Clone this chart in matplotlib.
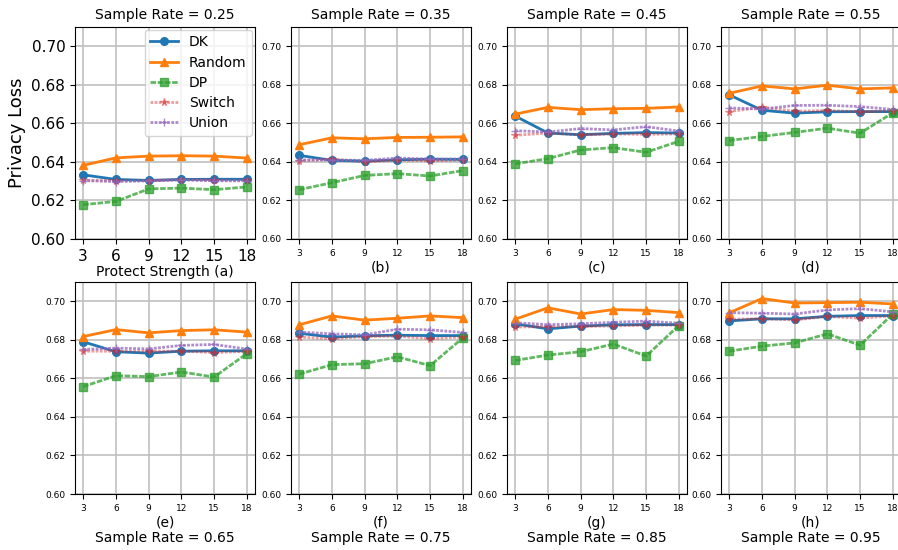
import matplotlib
matplotlib.use('Agg')
import matplotlib.pyplot as plt

strength = [3, 6, 9, 12, 15, 18]
rates = ['0.25', '0.35', '0.45', '0.55', '0.65', '0.75', '0.85', '0.95']
letters = ['a', 'b', 'c', 'd', 'e', 'f', 'g', 'h']

dk = [
    [0.6333, 0.6309, 0.6304, 0.6309, 0.6310, 0.6310],
    [0.6434, 0.6408, 0.6404, 0.6411, 0.6414, 0.6413],
    [0.6638, 0.6550, 0.6541, 0.6548, 0.6552, 0.6550],
    [0.6748, 0.6668, 0.6653, 0.6660, 0.6661, 0.6661],
    [0.6790, 0.6738, 0.6731, 0.6741, 0.6743, 0.6743],
    [0.6834, 0.6814, 0.6821, 0.6824, 0.6822, 0.6822],
    [0.6883, 0.6857, 0.6871, 0.6878, 0.6879, 0.6879],
    [0.6898, 0.6909, 0.6909, 0.6922, 0.6926, 0.6926],
]
random_ = [
    [0.6382, 0.6421, 0.6430, 0.6432, 0.6430, 0.6420],
    [0.6489, 0.6525, 0.6520, 0.6527, 0.6528, 0.6530],
    [0.6648, 0.6683, 0.6671, 0.6676, 0.6678, 0.6685],
    [0.6756, 0.6794, 0.6779, 0.6798, 0.6779, 0.6784],
    [0.6817, 0.6853, 0.6836, 0.6848, 0.6852, 0.6840],
    [0.6878, 0.6924, 0.6902, 0.6912, 0.6924, 0.6915],
    [0.6907, 0.6966, 0.6934, 0.6957, 0.6953, 0.6941],
    [0.6940, 0.7014, 0.6991, 0.6993, 0.6995, 0.6986],
]
dp = [
    [0.6178, 0.6195, 0.6260, 0.6264, 0.6256, 0.6270],
    [0.6256, 0.6292, 0.6330, 0.6339, 0.6327, 0.6355],
    [0.6390, 0.6417, 0.6462, 0.6474, 0.6450, 0.6507],
    [0.6511, 0.6532, 0.6553, 0.6575, 0.6549, 0.6655],
    [0.6557, 0.6614, 0.6609, 0.6633, 0.6607, 0.6728],
    [0.6622, 0.6671, 0.6676, 0.6712, 0.6666, 0.6810],
    [0.6693, 0.6721, 0.6738, 0.6778, 0.6716, 0.6874],
    [0.6741, 0.6767, 0.6784, 0.6831, 0.6772, 0.6934],
]
switch = [
    [0.6305, 0.6303, 0.6303, 0.6308, 0.6305, 0.6305],
    [0.6405, 0.6415, 0.6400, 0.6410, 0.6405, 0.6410],
    [0.6538, 0.6550, 0.6540, 0.6545, 0.6543, 0.6545],
    [0.6661, 0.6684, 0.6663, 0.6667, 0.6660, 0.6665],
    [0.6741, 0.6741, 0.6741, 0.6741, 0.6734, 0.6740],
    [0.6814, 0.6805, 0.6817, 0.6819, 0.6805, 0.6815],
    [0.6866, 0.6869, 0.6869, 0.6872, 0.6876, 0.6876],
    [0.6907, 0.6909, 0.6903, 0.6921, 0.6912, 0.6924],
]
union = [
    [0.6303, 0.6298, 0.6302, 0.6307, 0.6302, 0.6302],
    [0.6410, 0.6410, 0.6408, 0.6420, 0.6415, 0.6415],
    [0.6562, 0.6555, 0.6573, 0.6566, 0.6583, 0.6560],
    [0.6680, 0.6674, 0.6693, 0.6694, 0.6687, 0.6672],
    [0.6750, 0.6757, 0.6753, 0.6771, 0.6776, 0.6752],
    [0.6840, 0.6831, 0.6826, 0.6855, 0.6852, 0.6838],
    [0.6888, 0.6879, 0.6883, 0.6891, 0.6897, 0.6886],
    [0.6941, 0.6938, 0.6934, 0.6955, 0.6962, 0.6945],
]

fig = plt.figure(figsize=(8.98, 5.5), dpi=100)

lefts = [75, 291, 507, 721]
for i in range(8):
    row, col = divmod(i, 4)
    top = 27 if row == 0 else 282
    ax = fig.add_axes([lefts[col] / 898, 1 - (top + 212) / 550, 180 / 898, 212 / 550])
    ax.plot(strength, dk[i], color='C0', marker='o', ms=5.5, lw=2, label='DK')
    ax.plot(strength, random_[i], color='C1', marker='^', ms=5.5, lw=2, label='Random')
    ax.plot(strength, dp[i], color='C2', marker='s', ms=5.5, lw=2, alpha=0.75,
            dashes=(2, 0.6), label='DP')
    ax.plot(strength, switch[i], color='C3', marker='*', ms=5.5, lw=2, alpha=0.45,
            dashes=(1, 0.5), label='Switch')
    ax.plot(strength, union[i], color='C4', marker='+', ms=5.5, lw=2, alpha=0.75,
            dashes=(1, 0.5), label='Union')
    ax.set_ylim(0.6, 0.71)
    ax.set_yticks([0.60, 0.62, 0.64, 0.66, 0.68, 0.70])
    ax.set_xticks(strength)
    ax.grid(True, color='#c0c0c0', lw=1.2)
    if i == 0:
        ax.tick_params(labelsize=11)
        ax.set_ylabel('Privacy Loss', fontsize=13)
        ax.set_xlabel('Protect Strength (a)', fontsize=10, labelpad=1)
        ax.legend(loc='upper right', fontsize=10, borderaxespad=0.2, labelspacing=0.45)
    else:
        ax.tick_params(labelsize=6.5)
    if row == 0:
        ax.set_title('Sample Rate = ' + rates[i], fontsize=10)
        if i > 0:
            ax.set_xlabel('(' + letters[i] + ')', fontsize=10, labelpad=2)
    else:
        ax.set_xlabel('(' + letters[i] + ')\nSample Rate = ' + rates[i], fontsize=10,
                      labelpad=2, linespacing=1.1)

fig.savefig('out.png', dpi=100)
